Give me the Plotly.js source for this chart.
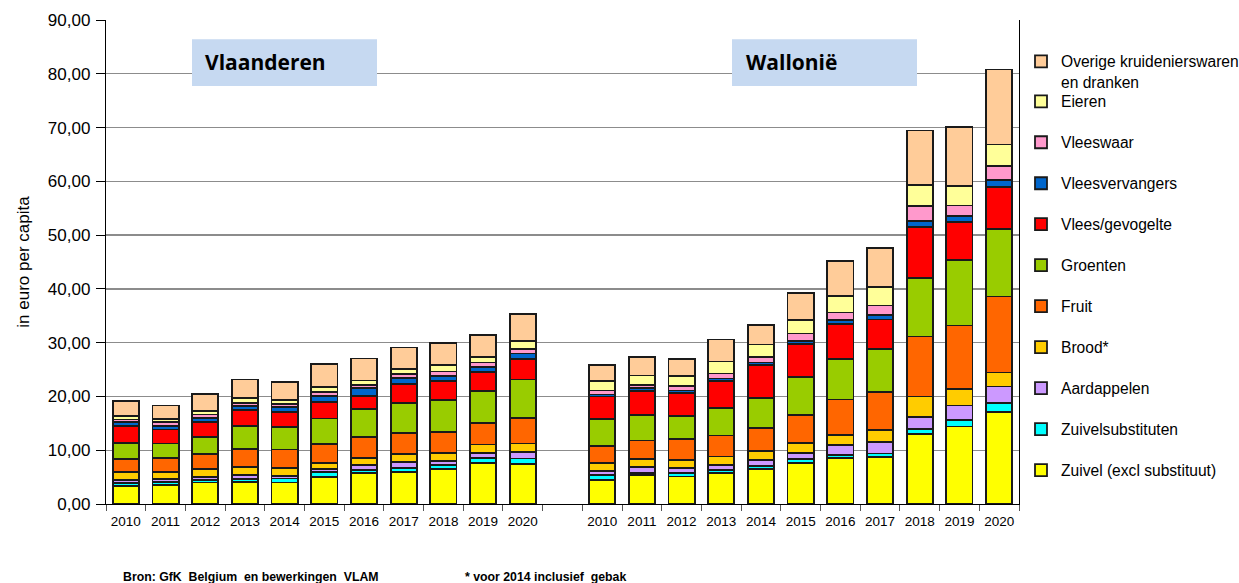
<!DOCTYPE html>
<html><head><meta charset="utf-8">
<script src="https://cdn.plot.ly/plotly-3.0.1.min.js"></script>
<style>html,body{margin:0;padding:0;background:#fff}#chart{width:1239px;height:583px}</style>
</head><body><div id="chart"></div>
<script>
// ---- data ----
const years = ['2010','2011','2012','2013','2014','2015','2016','2017','2018','2019','2020'];
const regionLabels = ['Vlaanderen', 'Wallonië'];
const seriesNames = [
  'Zuivel (excl substituut)', 'Zuivelsubstituten', 'Aardappelen', 'Brood*', 'Fruit',
  'Groenten', 'Vlees/gevogelte', 'Vleesvervangers', 'Vleeswaar', 'Eieren',
  'Overige kruidenierswaren<br>en dranken'
];
// Vlaanderen, 2010..2020 (euro per capita)
const vlZuivel      = [3.4, 3.5, 4.0, 4.05, 4.0, 4.95, 5.75, 6.0, 6.5, 7.6, 7.5];
const vlZuivelSub   = [0.5, 0.6, 0.5, 0.6, 0.75, 1.05, 0.6, 0.75, 0.7, 0.9, 0.95];
const vlAardappelen = [0.6, 0.5, 0.5, 0.75, 0.5, 0.5, 0.95, 1.0, 0.75, 1.0, 1.25];
const vlBrood       = [1.5, 1.4, 1.55, 1.45, 1.45, 1.1, 1.2, 1.55, 1.6, 1.55, 1.55];
const vlFruit       = [2.3, 2.5, 2.8, 3.4, 3.45, 3.6, 3.95, 3.95, 3.8, 3.95, 4.8];
const vlGroenten    = [3.1, 2.75, 3.1, 4.25, 4.2, 4.7, 5.2, 5.6, 6.0, 6.05, 7.1];
const vlVlees       = [3.1, 2.6, 2.75, 3.0, 2.7, 3.1, 2.5, 3.4, 3.5, 3.45, 3.75];
const vlVleesverv   = [0.7, 0.6, 0.85, 0.65, 1.0, 1.05, 1.4, 1.25, 0.95, 0.95, 1.1];
const vlVleeswaar   = [0.5, 0.75, 0.6, 0.7, 0.6, 0.75, 0.6, 0.65, 0.85, 0.85, 0.8];
const vlEieren      = [0.7, 0.6, 0.65, 0.85, 0.75, 0.9, 0.8, 1.0, 1.25, 1.0, 1.45];
const vlOverige     = [2.8, 2.5, 3.2, 3.45, 3.25, 4.3, 4.1, 3.95, 4.0, 4.2, 5.05];
// Wallonië, 2010..2020 (euro per capita)
const waZuivel      = [4.4, 5.4, 5.1, 5.75, 6.5, 7.6, 8.5, 8.8, 13.0, 14.4, 17.1];
const waZuivelSub   = [1.0, 0.4, 0.6, 0.5, 0.5, 0.75, 0.6, 0.6, 0.9, 1.2, 1.65];
const waAardappelen = [0.75, 1.1, 1.0, 1.0, 1.25, 1.1, 1.85, 2.1, 2.35, 2.7, 3.1];
const waBrood       = [1.5, 1.5, 1.5, 1.6, 1.55, 1.85, 1.85, 2.3, 3.75, 3.05, 2.6];
const waFruit       = [3.1, 3.4, 3.9, 3.9, 4.3, 5.3, 6.65, 7.05, 11.15, 11.85, 14.15];
const waGroenten    = [5.0, 4.7, 4.25, 5.1, 5.6, 7.0, 7.5, 7.95, 10.85, 12.2, 12.55];
const waVlees       = [4.25, 4.5, 4.3, 5.05, 6.1, 6.1, 6.5, 5.5, 9.45, 7.0, 7.75];
const waVleesverv   = [0.35, 0.55, 0.45, 0.45, 0.5, 0.6, 0.75, 0.9, 1.15, 1.1, 1.3];
const waVleeswaar   = [0.75, 0.6, 0.85, 0.9, 1.05, 1.4, 1.4, 1.7, 2.8, 2.0, 2.6];
const waEieren      = [1.8, 1.75, 1.9, 2.25, 2.3, 2.5, 3.1, 3.4, 3.95, 3.7, 4.05];
const waOverige     = [2.95, 3.45, 3.1, 4.1, 3.7, 5.1, 6.5, 7.3, 10.1, 10.9, 13.95];
const footSource = 'Bron: GfK\u00a0 Belgium\u00a0 en bewerkingen\u00a0 VLAM';
const footNote = '* voor 2014 inclusief\u00a0 gebak';

// ---- styling ----
const colors = ['#FFFF00','#00FFFF','#CC99FF','#FFCC00','#FF6600','#99CC00','#FF0000','#0066CC','#FF99CC','#FFFF99','#FFCC99'];
const vlSeries = [vlZuivel, vlZuivelSub, vlAardappelen, vlBrood, vlFruit, vlGroenten, vlVlees, vlVleesverv, vlVleeswaar, vlEieren, vlOverige];
const waSeries = [waZuivel, waZuivelSub, waAardappelen, waBrood, waFruit, waGroenten, waVlees, waVleesverv, waVleeswaar, waEieren, waOverige];

const n = years.length;
const xV = years.map((_, i) => i);
const xW = years.map((_, i) => i + n + 1);
const xAll = xV.concat(xW);
const ticktext = years.concat(years);

// plot geometry in pixels
const W = 1239, H = 583;
const L = 106, R = 1019, T = 20, B = 504.3;
const px2x = p => (p - L) / (R - L);
const px2y = p => (B - p) / (B - T);

const traces = seriesNames.map((name, i) => ({
  type: 'bar',
  name: name,
  x: xAll,
  y: vlSeries[i].concat(waSeries[i]),
  marker: {color: colors[i], line: {color: '#1a1a1a', width: 1.8}},
  legend: i === seriesNames.length - 1 ? 'legend' : 'legend' + (i + 2),
  hoverinfo: 'name+y'
}));

const font = 'Liberation Sans, Arial, sans-serif';
const layout = {
  width: W, height: H,
  margin: {l: L, r: W - R, t: T, b: H - B, autoexpand: false},
  paper_bgcolor: '#fff', plot_bgcolor: '#fff',
  barmode: 'stack', bargap: 0.34,
  separators: ',.',
  font: {family: font, color: '#000'},
  xaxis: {
    range: [-0.5, 2 * n + 0.5], tickvals: xAll, ticktext: ticktext,
    ticks: '', showgrid: false, zeroline: false,
    showline: true, linecolor: '#000', linewidth: 1.2,
    tickfont: {size: 13.5, family: font}, ticklabelstandoff: 5,
    minor: {tickmode: 'linear', tick0: -0.5, dtick: 1, ticks: 'outside', ticklen: 6, tickcolor: '#555', tickwidth: 1, showgrid: false},
    fixedrange: true, automargin: false
  },
  yaxis: {
    range: [0, 90], dtick: 10, tickformat: '.2f',
    ticks: 'outside', ticklen: 9, tickcolor: '#000',
    showline: true, linecolor: '#000', linewidth: 1.2, mirror: true,
    showgrid: true, gridcolor: '#8c8c8c', gridwidth: 1.3, zeroline: false,
    tickfont: {size: 17, family: font}, ticklabelstandoff: 2,
    title: {text: 'in euro per capita', font: {size: 17, family: font}, standoff: 14},
    automargin: false, fixedrange: true
  },
  shapes: [
    {type: 'rect', xref: 'paper', yref: 'paper', x0: px2x(192), x1: px2x(377), y0: px2y(86), y1: px2y(39.3), fillcolor: '#C6D9F1', line: {width: 0}, layer: 'above'},
    {type: 'rect', xref: 'paper', yref: 'paper', x0: px2x(732), x1: px2x(917), y0: px2y(86), y1: px2y(39.3), fillcolor: '#C6D9F1', line: {width: 0}, layer: 'above'}
  ],
  annotations: [
    {xref: 'paper', yref: 'paper', x: px2x(203), y: px2y(62.5), xanchor: 'left', yanchor: 'middle', text: '<b>' + regionLabels[0] + '</b>', showarrow: false, font: {size: 21, family: 'Open Sans, Liberation Sans, sans-serif', color: '#000'}},
    {xref: 'paper', yref: 'paper', x: px2x(744), y: px2y(62.5), xanchor: 'left', yanchor: 'middle', text: '<b>' + regionLabels[1] + '</b>', showarrow: false, font: {size: 21, family: 'Open Sans, Liberation Sans, sans-serif', color: '#000'}},
    {xref: 'paper', yref: 'paper', x: px2x(121), y: px2y(577), xanchor: 'left', yanchor: 'middle', text: '<b>' + footSource + '</b>', showarrow: false, font: {size: 12.3, family: font, color: '#000'}},
    {xref: 'paper', yref: 'paper', x: px2x(463), y: px2y(577), xanchor: 'left', yanchor: 'middle', text: '<b>' + footNote + '</b>', showarrow: false, font: {size: 12.3, family: font, color: '#000'}}
  ],
  showlegend: true
};

// one legend box per series, stacked top (Overige) to bottom (Zuivel)
const legendX = px2x(1021);
seriesNames.forEach((name, i) => {
  const k = seriesNames.length - 1 - i; // 0 = top entry
  const key = i === seriesNames.length - 1 ? 'legend' : 'legend' + (i + 2);
  const cy = 60.7 + 41 * k;
  layout[key] = {
    x: legendX, xanchor: 'left',
    y: k === 0 ? px2y(cy - 16) : px2y(cy), yanchor: k === 0 ? 'top' : 'middle',
    valign: 'top', bgcolor: 'rgba(0,0,0,0)', borderwidth: 0,
    font: {size: 15.6, family: font, color: '#000'},
    itemclick: false, itemdoubleclick: false
  };
});

Plotly.newPlot('chart', traces, layout, {displayModeBar: false, staticPlot: true});
</script></body></html>
